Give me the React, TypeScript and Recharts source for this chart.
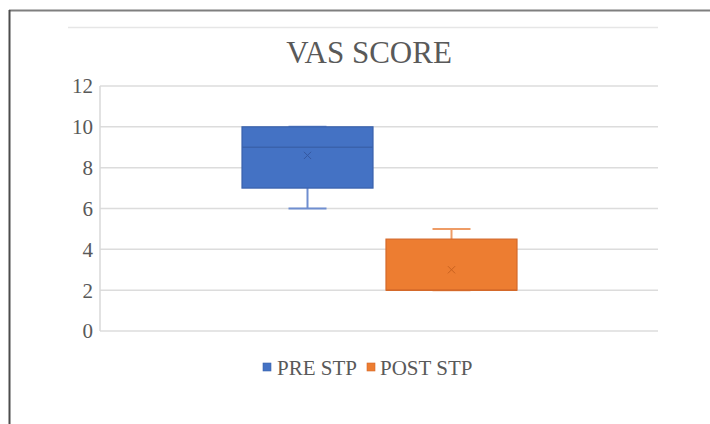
import React from 'react';
import { ComposedChart, Bar, XAxis, YAxis, CartesianGrid } from 'recharts';

const categories = [''];
const seriesNames = ['PRE STP', 'POST STP'];
const seriesKeys = ['pre', 'post'];
const minValues = [6, 2];
const q1Values = [7, 2];
const medianValues = [9, 2];
const q3Values = [10, 4.5];
const maxValues = [10, 5];
const meanValues = [8.6, 3];
const yTicks = [0, 2, 4, 6, 8, 10, 12];

const fills = ['#4472C4', '#ED7D31'];
const borders = ['#3A62AC', '#D4692A'];
const whiskerColors = ['#6F8ED0', '#EE9C66'];
const meanColors = ['#3558A0', '#C9621F'];

const FONT = "'Liberation Serif', Tinos, 'Times New Roman', Times, 'DejaVu Serif', serif";

const data = categories.map((name) => {
  const row: any = { name };
  seriesKeys.forEach((k, i) => {
    row[k] = [minValues[i], maxValues[i]];
  });
  return row;
});

const makeShape = (s: number) => (props: any) => {
  const { x, y, width, height } = props;
  const top = Math.min(y, y + height);
  const bottom = Math.max(y, y + height);
  const lo = minValues[s];
  const hi = maxValues[s];
  const py = (v: number) => top + ((hi - v) / (hi - lo)) * (bottom - top);
  const cx = x + width / 2;
  const capHalf = width * 0.145;
  const yQ1 = py(q1Values[s]);
  const yQ3 = py(q3Values[s]);
  const yMed = py(medianValues[s]);
  const yMean = py(meanValues[s]);
  const yMin = py(lo);
  const yMax = py(hi);
  const m = 3.6;
  return (
    <g>
      <line x1={cx} x2={cx} y1={yMax} y2={yQ3} stroke={whiskerColors[s]} strokeWidth={2} />
      <line x1={cx} x2={cx} y1={yQ1} y2={yMin} stroke={whiskerColors[s]} strokeWidth={2} />
      <line x1={cx - capHalf} x2={cx + capHalf} y1={yMax} y2={yMax} stroke={whiskerColors[s]} strokeWidth={2} />
      <line x1={cx - capHalf} x2={cx + capHalf} y1={yMin} y2={yMin} stroke={whiskerColors[s]} strokeWidth={2} />
      <rect x={x} y={yQ3} width={width} height={yQ1 - yQ3} fill={fills[s]} stroke={borders[s]} strokeWidth={1.2} />
      <line x1={x} x2={x + width} y1={yMed} y2={yMed} stroke={borders[s]} strokeWidth={1.5} />
      <line x1={cx - m} x2={cx + m} y1={yMean - m} y2={yMean + m} stroke={meanColors[s]} strokeWidth={1} />
      <line x1={cx - m} x2={cx + m} y1={yMean + m} y2={yMean - m} stroke={meanColors[s]} strokeWidth={1} />
    </g>
  );
};

const legendX = [
  { sq: 263, tx: 277 },
  { sq: 367, tx: 380 },
];

const textStyle = { fontFamily: FONT };

export default function App() {
  return (
    <div style={{ position: 'absolute', left: 0, top: 0, width: 710, height: 424, background: '#fff', overflow: 'hidden', fontFamily: FONT }}>
      <svg width={710} height={424} style={{ position: 'absolute', left: 0, top: 0 }}>
        <line x1={9} x2={710} y1={10.5} y2={10.5} stroke="#7F7F7F" strokeWidth={2} />
        <line x1={9.5} x2={9.5} y1={10} y2={424} stroke="#4D4D4D" strokeWidth={2} />
        <line x1={68} x2={658} y1={27.5} y2={27.5} stroke="#E6E6E6" strokeWidth={1.5} />
        <text x={369} y={63} textAnchor="middle" style={textStyle} fontSize={31} fill="#595959">
          VAS SCORE
        </text>
        {seriesNames.map((n, i) => (
          <g key={n}>
            <rect x={legendX[i].sq} y={363} width={8} height={8} fill={fills[i]} stroke={borders[i]} strokeWidth={0.6} />
            <text x={legendX[i].tx} y={375} style={textStyle} fontSize={21} fill="#595959">
              {n}
            </text>
          </g>
        ))}
      </svg>
      <div style={{ position: 'absolute', left: 0, top: 0 }}>
        <ComposedChart
          width={710}
          height={424}
          data={data}
          margin={{ top: 86, right: 52, bottom: 93, left: 40 }}
          barGap={13}
          style={textStyle}
        >
          <CartesianGrid horizontal vertical={false} stroke="#DCDCDC" strokeWidth={1.5} />
          <XAxis dataKey="name" hide />
          <YAxis
            domain={[0, 12]}
            ticks={yTicks}
            width={60}
            tickLine={false}
            axisLine={{ stroke: '#D9D9D9', strokeWidth: 1.5 }}
            tickMargin={1}
            tick={{ style: textStyle, fontSize: 21, fill: '#595959' }}
            interval={0}
          />
          {seriesKeys.map((k, i) => (
            <Bar
              key={k}
              dataKey={k}
              name={seriesNames[i]}
              barSize={131}
              fill={fills[i]}
              isAnimationActive={false}
              shape={makeShape(i)}
            />
          ))}
        </ComposedChart>
      </div>
    </div>
  );
}
